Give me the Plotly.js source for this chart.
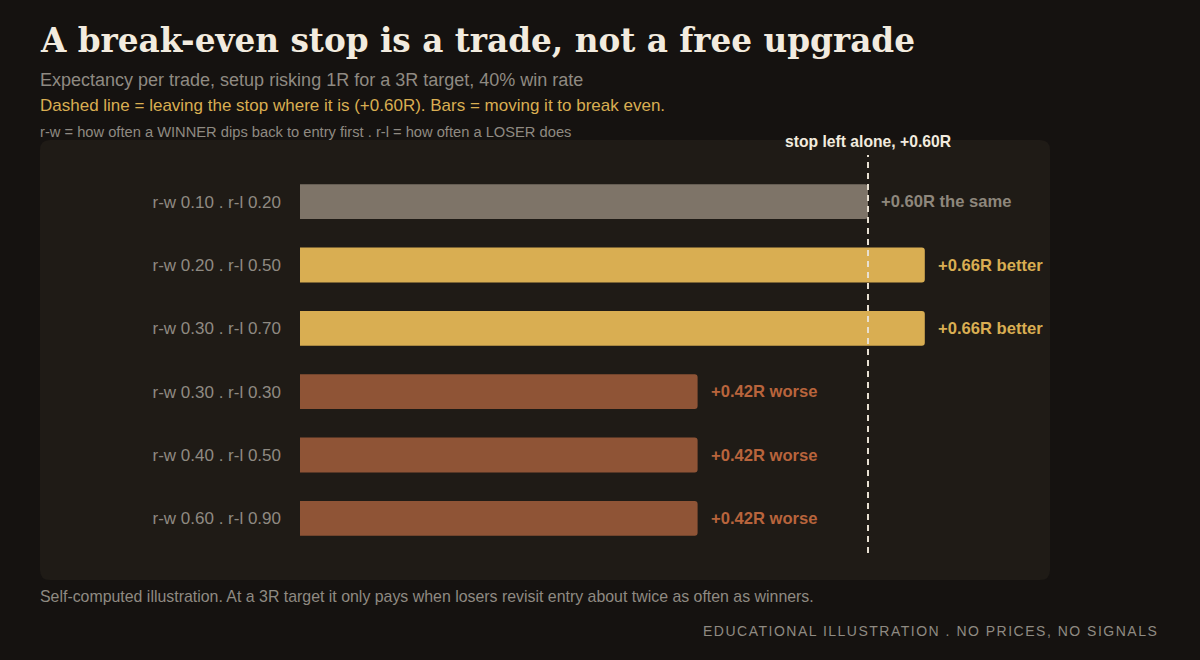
<!DOCTYPE html>
<html>
<head>
<meta charset="utf-8">
<script src="https://cdn.plot.ly/plotly-3.0.1.min.js"></script>
<style>
  html, body { margin:0; padding:0; background:#151210; }
  #chart { width:1200px; height:660px; }
</style>
</head>
<body>
<div id="chart"></div>
<script>
// ── data ─────────────────────────────────────────
const rw       = [0.10, 0.20, 0.30, 0.30, 0.40, 0.60];
const rl       = [0.20, 0.50, 0.70, 0.30, 0.50, 0.90];
const expect   = [0.60, 0.66, 0.66, 0.42, 0.42, 0.42];
const verdict  = ['the same', 'better', 'better', 'worse', 'worse', 'worse'];
const baseline = 0.60;   // stop left alone

// ── styling ──────────────────────────────────────
const BG = '#151210', PANEL = '#1f1b16';
const BAR_COL = { 'the same':'#7e7468', 'better':'#d9ae52', 'worse':'#8f5436' };
const TXT_COL = { 'the same':'#8e877c', 'better':'#d9ae52', 'worse':'#b8643c' };
const SANS = '"Liberation Sans", Arial, sans-serif';
const SERIF = '"DejaVu Serif", serif';

const cats = rw.map((w,i) => `r-w ${w.toFixed(2)} . r-l ${rl[i].toFixed(2)}`);

// plot area in px: x 300..1050, y 170..550
const W = 1200, H = 660;
const M = { l:300, r:150, t:170, b:110 };
const pw = W - M.l - M.r, ph = H - M.t - M.b;
const px = v => (v - M.l) / pw;         // px -> paper x
const py = v => 1 - (v - M.t) / ph;     // px -> paper y
const xMax = 0.60 / (568 / pw);         // 0 at x=300, 0.60 at x=868

// rounded panel behind the chart
function roundRect(x0, y0, x1, y1, r) {
  const rx = r / pw, ry = r / ph;
  const a = px(x0), b = px(x1), top = py(y0), bot = py(y1);
  return `M${a+rx},${top} L${b-rx},${top} Q${b},${top} ${b},${top-ry} ` +
         `L${b},${bot+ry} Q${b},${bot} ${b-rx},${bot} L${a+rx},${bot} ` +
         `Q${a},${bot} ${a},${bot+ry} L${a},${top-ry} Q${a},${top} ${a+rx},${top} Z`;
}

const trace = {
  type:'bar', orientation:'h',
  x: expect, y: cats,
  marker:{ color: verdict.map(v => BAR_COL[v]), line:{width:0} },
  width: 0.55,
  hoverinfo:'skip'
};

const valueNotes = expect.map((v,i) => ({
  x: v, y: cats[i], xref:'x', yref:'y',
  text: `+${v.toFixed(2)}R ${verdict[i]}`,
  showarrow:false, xanchor:'left', xshift:11,
  font:{ family:SANS, size:16.6, color:TXT_COL[verdict[i]], weight:'bold' }
}));

const textNote = (text, x, y, size, color, extra) => Object.assign({
  text, x:px(x), y:py(y), xref:'paper', yref:'paper',
  showarrow:false, xanchor:'left', yanchor:'middle',
  font:{ family:SANS, size, color }
}, extra || {});

const annotations = [
  textNote('A break-even stop is a trade, not a free upgrade', 38, 40, 32.7, '#f2ebdf',
    { font:{ family:SERIF, size:32.7, color:'#f2ebdf', weight:'bold' } }),
  textNote('Expectancy per trade, setup risking 1R for a 3R target, 40% win rate', 38, 80, 18, '#8f8a82'),
  textNote('Dashed line = leaving the stop where it is (+0.60R). Bars = moving it to break even.', 38, 106, 17, '#d9ae52'),
  textNote('r-w = how often a WINNER dips back to entry first . r-l = how often a LOSER does', 38, 132, 14.7, '#8f8a82'),
  textNote('Self-computed illustration. At a 3R target it only pays when losers revisit entry about twice as often as winners.', 38, 596, 15.9, '#8f8a82'),
  textNote('EDUCATIONAL ILLUSTRATION . NO PRICES, NO SIGNALS', 1160, 631, 14, '#8f8a82',
    { xanchor:'right' }),
  { text:'stop left alone, +0.60R', x:baseline, xref:'x', y:py(141), yref:'paper',
    showarrow:false, xanchor:'center', yanchor:'middle',
    font:{ family:SANS, size:15.7, color:'#f2ebdf', weight:'bold' } },
  ...valueNotes
];

const shapes = [
  { type:'path', xref:'paper', yref:'paper', path:roundRect(40, 140, 1050, 580, 10),
    fillcolor:PANEL, line:{width:0}, layer:'below' },
  { type:'line', xref:'x', yref:'paper', x0:baseline, x1:baseline, y0:py(553), y1:py(155),
    line:{ color:'#e8e0d2', width:2, dash:'6px,5px' }, layer:'above' }
];

const layout = {
  width:W, height:H,
  paper_bgcolor:BG, plot_bgcolor:'rgba(0,0,0,0)',
  margin:M, showlegend:false,
  barcornerradius:3,
  xaxis:{ range:[0, xMax], visible:false, fixedrange:true },
  yaxis:{
    type:'category', autorange:'reversed', fixedrange:true,
    showgrid:false, zeroline:false, showline:false, ticks:'',
    ticklabelstandoff:18,
    tickfont:{ family:SANS, size:17, color:'#8f8a82' }
  },
  shapes, annotations
};

Plotly.newPlot('chart', [trace], layout, { displayModeBar:false, staticPlot:true }).then(gd => {
  // letter-spaced footer line, right edge kept where plotly put it
  gd.querySelectorAll('.annotation-text').forEach(t => {
    if (!t.textContent.startsWith('EDUCATIONAL')) return;
    const r0 = t.getBoundingClientRect().right;
    t.style.letterSpacing = '1.5px';
    const r1 = t.getBoundingClientRect().right;
    t.setAttribute('x', parseFloat(t.getAttribute('x') || 0) - (r1 - r0));
  });
});
</script>
</body>
</html>
